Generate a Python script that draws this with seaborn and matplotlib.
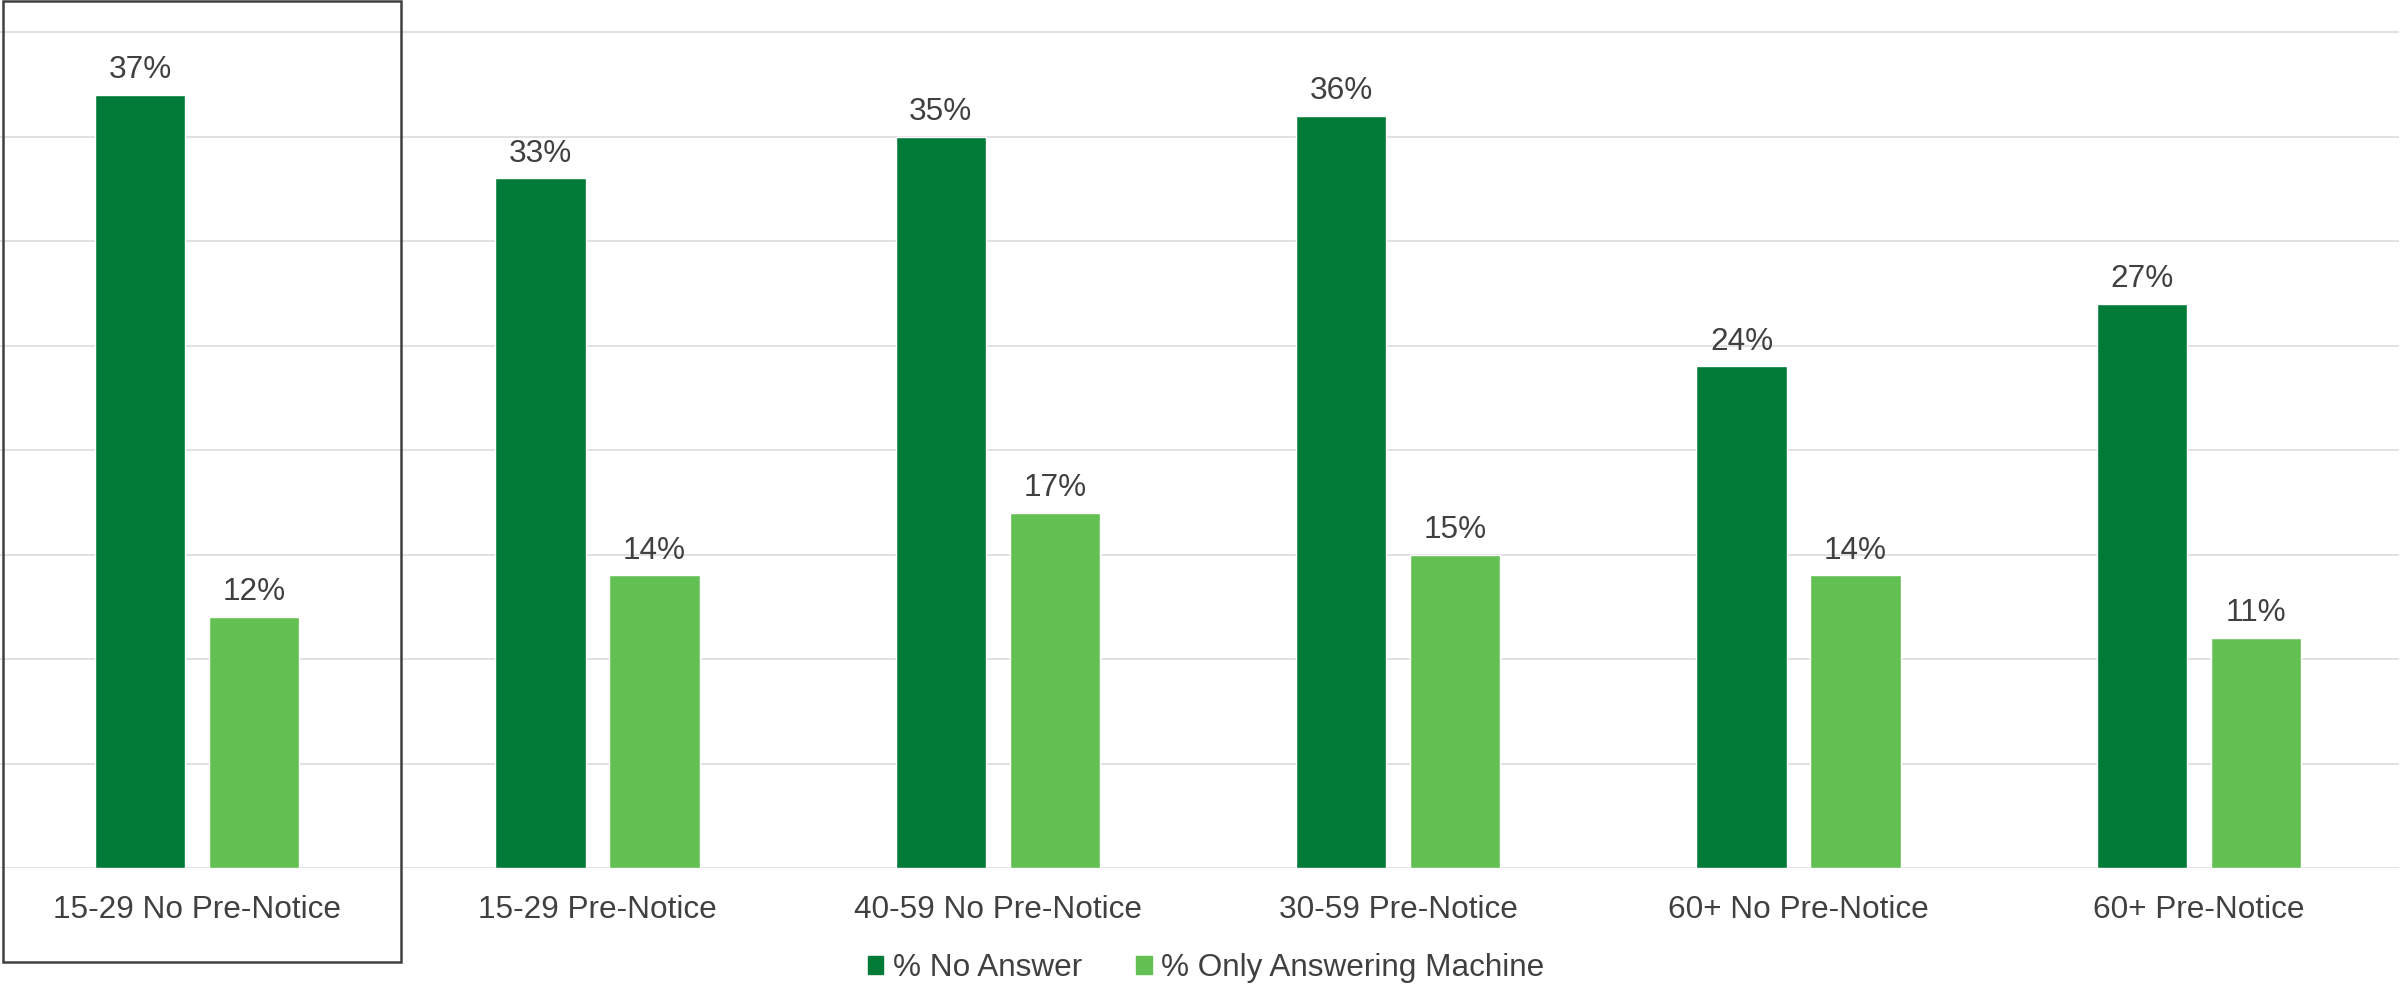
import matplotlib
matplotlib.use("Agg")
import matplotlib.pyplot as plt
import matplotlib.patches as mpatches
import seaborn as sns
import pandas as pd

categories = ["15-29 No Pre-Notice", "15-29 Pre-Notice", "40-59 No Pre-Notice",
              "30-59 Pre-Notice", "60+ No Pre-Notice", "60+ Pre-Notice"]
no_answer = [37, 33, 35, 36, 24, 27]
answering_machine = [12, 14, 17, 15, 14, 11]
series_names = ["% No Answer", "% Only Answering Machine"]
colors = ["#007A37", "#62C152"]
text_color = "#404040"

df = pd.DataFrame({
    "category": categories * 2,
    "series": [series_names[0]] * len(categories) + [series_names[1]] * len(categories),
    "value": no_answer + answering_machine,
})

sns.set_theme(style="white")
plt.rcParams["font.family"] = ["Liberation Sans", "DejaVu Sans"]

W, H = 2402, 986
fig = plt.figure(figsize=(W / 100, H / 100), dpi=100)
px_per_unit = (868 - 32) / 40
ymax = 41
bottom = (H - 868) / H
height = ymax * px_per_unit / H
ax = fig.add_axes([-3 / W, bottom, 1, height])

sns.barplot(data=df, x="category", y="value", hue="series", order=categories,
            hue_order=series_names, palette=colors, width=0.57, gap=0.21,
            saturation=1, legend=False, ax=ax)

ax.set_xlim(-0.5, len(categories) - 0.5)
ax.set_ylim(0, ymax)
ax.set_yticks(range(0, 41, 5))
ax.yaxis.grid(True, color="#d9d9d9", linewidth=1.1)
ax.set_axisbelow(True)
ax.tick_params(axis="y", left=False, labelleft=False)
ax.tick_params(axis="x", bottom=False, pad=13.5, labelsize=22.7, labelcolor=text_color)
for s in ax.spines.values():
    s.set_visible(False)
ax.set_xlabel("")
ax.set_ylabel("")

for cont in ax.containers:
    vals = cont.datavalues
    ax.bar_label(cont, labels=[f"{v:.0f}%" for v in vals], padding=7,
                 fontsize=22.7, color=text_color)

# Highlight box around the first group
box = mpatches.Rectangle((3 / W, (H - 962) / H), (401 - 3) / W, (962 - 1) / H,
                         transform=fig.transFigure, fill=False,
                         edgecolor=text_color, linewidth=1.8, clip_on=False)
fig.add_artist(box)

handles = [mpatches.Patch(color=c, label=n) for c, n in zip(colors, series_names)]
fig.legend(handles=handles, loc="center", bbox_to_anchor=(1206 / W, (H - 968) / H),
           ncol=2, frameon=False, fontsize=22.7, labelcolor=text_color,
           handlelength=0.5, handleheight=0.5, handletextpad=0.3,
           columnspacing=1.7, borderpad=0, borderaxespad=0)

fig.savefig("out.png", dpi=100)
